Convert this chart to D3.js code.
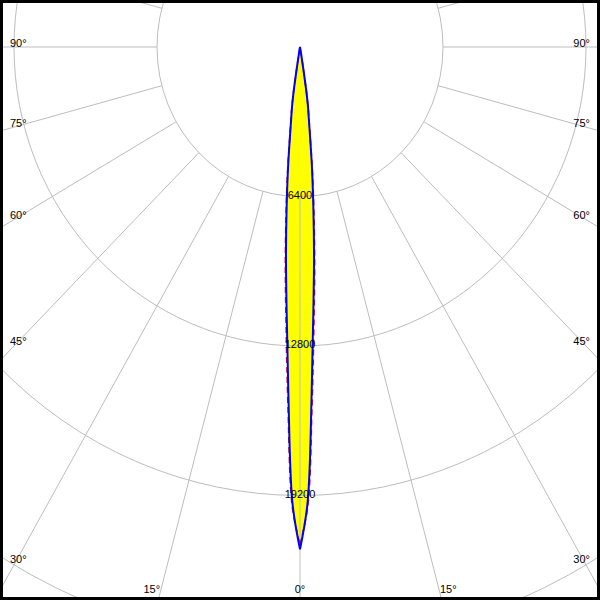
<!DOCTYPE html>
<html>
<head>
<meta charset="utf-8">
<script src="https://cdn.jsdelivr.net/npm/d3@7"></script>
<style>
  html, body { margin: 0; padding: 0; background: #fff; }
  svg { display: block; }
  text { font-family: "Liberation Sans", Arial, sans-serif; font-size: 11px; fill: #000; }
</style>
</head>
<body>
<svg id="chart" width="600" height="600"></svg>
<script>
// ---- data ----
const gammaAngles = [0, 1, 2, 3, 4, 5, 6, 7, 7.5, 8, 8.5, 9, 9.5, 10];
const intensityC0 = [21500, 19500, 14900, 11400, 9000, 6850, 5050, 3450, 2950, 2550, 1950, 900, 300, 0];
const intensityC90 = [21300, 19700, 15400, 11900, 9400, 7150, 5250, 3550, 3050, 2600, 2000, 950, 320, 0];
const ringValues = [6400, 12800, 19200, 25600, 32000];
const ringLabels = ["6400", "12800", "19200"];
const spokeAngles = [0, 15, 30, 45, 60, 75, 90, 105, 120, 135, 150, 165, 180];
const angleLabels = [0, 15, 30, 45, 60, 75, 90];

// ---- layout ----
const W = 600, H = 600;
const cx = 300, cy = 47;
const rX = d3.scaleLinear().domain([0, 6400]).range([0, 143]);
const rY = d3.scaleLinear().domain([0, 6400]).range([0, 149.5]);
const rad = d => d * Math.PI / 180;
function pt(g, I, side) {
  return [cx + side * rX(I) * Math.sin(rad(g)), cy + rY(I) * Math.cos(rad(g))];
}

const svg = d3.select("#chart");
svg.append("defs").append("clipPath").attr("id", "frame")
  .append("rect").attr("x", 0).attr("y", 0).attr("width", W).attr("height", H);
const g = svg.append("g").attr("clip-path", "url(#frame)");
g.append("rect").attr("width", W).attr("height", H).attr("fill", "#fff");

const lineGen = d3.line().curve(d3.curveCatmullRom.alpha(0.5));
function curvePath(vals) {
  const right = gammaAngles.map((a, i) => pt(a, vals[i], 1));
  const left = gammaAngles.map((a, i) => pt(a, vals[i], -1)).reverse();
  const p1 = lineGen(right);
  const p2 = lineGen(left).replace(/^M/, "L");
  return p1 + p2 + "Z";
}

// yellow fill
g.append("path").attr("d", curvePath(intensityC0))
  .attr("fill", "#ffff00").attr("stroke", "none");

// grid ellipses
g.selectAll("ellipse.ring").data(ringValues).join("ellipse")
  .attr("class", "ring")
  .attr("cx", cx).attr("cy", cy)
  .attr("rx", d => rX(d)).attr("ry", d => rY(d))
  .attr("fill", "none").attr("stroke", "#bdbdbd").attr("stroke-width", 1);

// spokes
const spokes = [];
spokeAngles.forEach(a => {
  spokes.push({ a, s: 1 });
  if (a !== 0 && a !== 180) spokes.push({ a, s: -1 });
});
g.selectAll("line.spoke").data(spokes).join("line")
  .attr("class", "spoke")
  .attr("x1", d => pt(d.a, ringValues[0], d.s)[0])
  .attr("y1", d => pt(d.a, ringValues[0], d.s)[1])
  .attr("x2", d => pt(d.a, 60000, d.s)[0])
  .attr("y2", d => pt(d.a, 60000, d.s)[1])
  .attr("stroke", "#bdbdbd").attr("stroke-width", 1);

// curves (red dashed under blue solid)
g.append("path").attr("d", curvePath(intensityC90))
  .attr("fill", "none").attr("stroke", "#d0103a").attr("stroke-width", 1.6)
  .attr("stroke-dasharray", "6,4");
g.append("path").attr("d", curvePath(intensityC0))
  .attr("fill", "none").attr("stroke", "#0000ff").attr("stroke-width", 2)
  .attr("stroke-linejoin", "miter");

// ring value labels
g.selectAll("text.val").data(ringLabels).join("text")
  .attr("class", "val")
  .attr("x", cx)
  .attr("y", d => cy + rY(+d) + 2)
  .attr("text-anchor", "middle")
  .text(d => d);

// angle labels
const kx = rX(1), ky = rY(1);
const angleLabelData = [];
angleLabels.forEach(a => {
  const sides = a === 0 ? [1] : [-1, 1];
  sides.forEach(s => {
    const sa = Math.sin(rad(a)), ca = Math.cos(rad(a));
    const Iside = sa > 1e-9 ? 285 / (kx * sa) : Infinity;
    const Ibot = ca > 1e-9 ? (593 - cy) / (ky * ca) : Infinity;
    let x, y, anchor;
    if (Ibot < Iside) {
      x = a === 0 ? cx : pt(a, Ibot, s)[0];
      y = 593;
      anchor = a === 0 ? "middle" : (s < 0 ? "end" : "start");
    } else {
      x = s < 0 ? 10 : 590;
      y = pt(a, Iside, s)[1];
      anchor = s < 0 ? "start" : "end";
    }
    angleLabelData.push({ label: a + "°", x, y, anchor });
  });
});
g.selectAll("text.ang").data(angleLabelData).join("text")
  .attr("class", "ang")
  .attr("x", d => d.x).attr("y", d => d.y)
  .attr("text-anchor", d => d.anchor)
  .text(d => d.label);

// frame
svg.append("rect").attr("x", 1.5).attr("y", 1.5).attr("width", W - 3).attr("height", H - 3)
  .attr("fill", "none").attr("stroke", "#000").attr("stroke-width", 3);
</script>
</body>
</html>
